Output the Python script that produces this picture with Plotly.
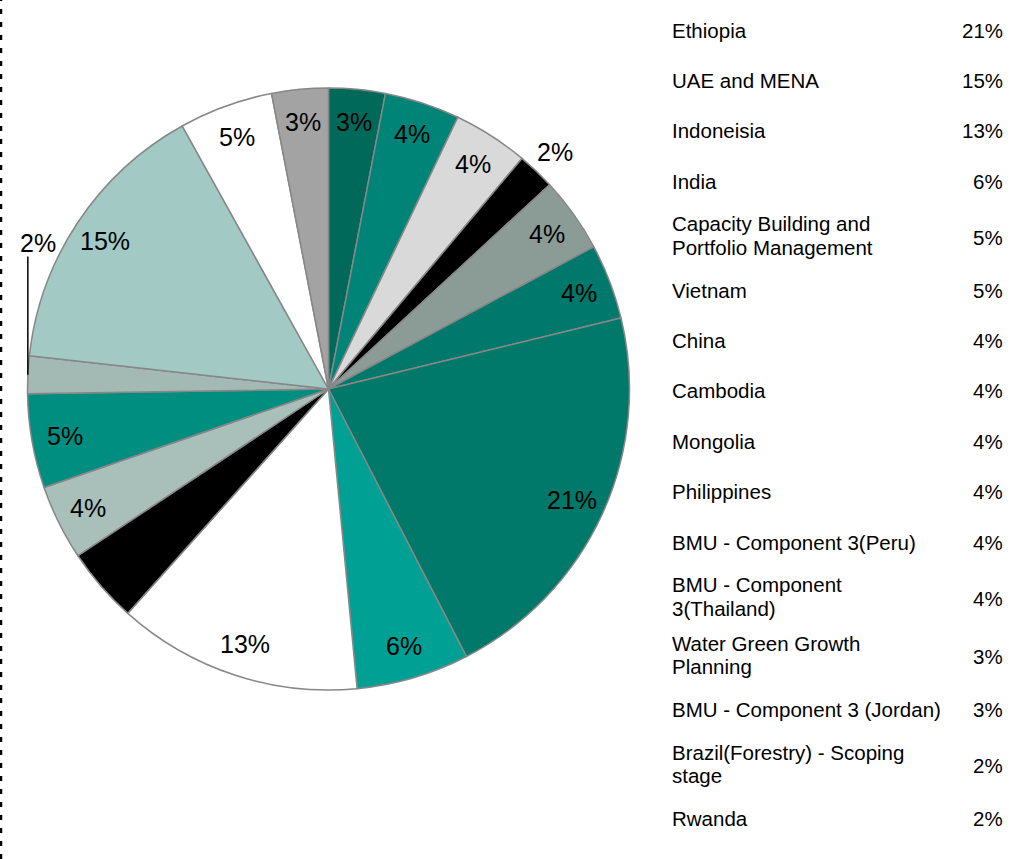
import math
import textwrap
import plotly.graph_objects as go

# Pie slices, listed clockwise from 12 o'clock
slice_names = [
    "Water Green Growth Planning",
    "China",
    "Cambodia",
    "Rwanda",
    "Mongolia",
    "Philippines",
    "Ethiopia",
    "India",
    "Indoneisia",
    "BMU - Component 3(Peru)",
    "BMU - Component 3(Thailand)",
    "Vietnam",
    "Brazil(Forestry) - Scoping stage",
    "UAE and MENA",
    "Capacity Building and Portfolio Management",
    "BMU - Component 3 (Jordan)",
]
slice_values = [3, 4, 4, 2, 4, 4, 21, 6, 13, 4, 4, 5, 2, 15, 5, 3]
slice_colors = [
    "#00695a", "#008477", "#d9d9d9", "#000000", "#8b9c96", "#00786c",
    "#00796a", "#00a194", "#ffffff", "#000000", "#a9c0ba", "#008e81",
    "#a3b9b3", "#a2c9c4", "#ffffff", "#a3a3a3",
]

# Summary table on the right
table_names = [
    "Ethiopia",
    "UAE and MENA",
    "Indoneisia",
    "India",
    "Capacity Building and Portfolio Management",
    "Vietnam",
    "China",
    "Cambodia",
    "Mongolia",
    "Philippines",
    "BMU - Component 3(Peru)",
    "BMU - Component 3(Thailand)",
    "Water Green Growth Planning",
    "BMU - Component 3 (Jordan)",
    "Brazil(Forestry) - Scoping stage",
    "Rwanda",
]
table_values = [21, 15, 13, 6, 5, 5, 4, 4, 4, 4, 4, 4, 3, 3, 2, 2]

# ---- page geometry (pixels) ----
W, H = 1021, 859
CX, CY, R = 328.5, 389.0, 301.0
FONT = "Arial, Liberation Sans, sans-serif"


def px(x):
    return x / W


def py(y):
    return 1 - y / H


def text_at(x, y, text, font, xanchor="center"):
    return dict(x=px(x), y=py(y), xref="paper", yref="paper", text=text,
                showarrow=False, xanchor=xanchor, yanchor="middle",
                borderpad=0, borderwidth=0, font=font)


fig = go.Figure(
    go.Pie(
        labels=slice_names,
        values=slice_values,
        sort=False,
        direction="clockwise",
        rotation=0,
        marker=dict(colors=slice_colors, line=dict(color="#878787", width=1.5)),
        textinfo="none",
        hoverinfo="label+value",
        showlegend=False,
        domain=dict(x=[px(CX - R), px(CX + R)], y=[py(CY + R), py(CY - R)]),
    )
)

annotations = []
shapes = []

# Percentage labels placed near the rim of each slice
label_font = dict(family=FONT, size=25, color="#000000")
total = sum(slice_values)
cum = 0
for name, v in zip(slice_names, slice_values):
    theta = 2 * math.pi * (cum + v / 2) / total
    cum += v
    s, c = math.sin(theta), math.cos(theta)
    if v > 2:
        r = 0.89 * R
        annotations.append(text_at(CX + r * s, CY - r * c, f"{v}%", label_font))
    elif s > -0.9:
        r = 1.09 * R
        annotations.append(text_at(CX + r * s, CY - r * c, f"{v}%", label_font))
    else:
        # callout with a vertical leader line from the rim
        ex, ey = CX + R * s, CY - R * c
        top = CY - 0.44 * R
        shapes.append(dict(type="line", xref="paper", yref="paper",
                           x0=px(ex), y0=py(ey), x1=px(ex), y1=py(top),
                           line=dict(color="#000000", width=1.5)))
        annotations.append(text_at(ex + 10, CY - 0.485 * R, f"{v}%", label_font))

# Right-hand table of names and shares
TX_LEFT, TX_RIGHT = 672, 1003
ROW1, ROW2 = 50.4, 58.5
LINE = 23.4
table_font = dict(family=FONT, size=20.5, color="#000000")
y_center = 30.0
prev_h = None
for name, v in zip(table_names, table_values):
    lines = textwrap.wrap(name, 26)
    h = ROW1 if len(lines) == 1 else ROW2
    if prev_h is not None:
        y_center += (prev_h + h) / 2
    prev_h = h
    n = len(lines)
    for i, ln in enumerate(lines):
        ly = y_center + (i - (n - 1) / 2) * LINE
        annotations.append(text_at(TX_LEFT, ly, ln, table_font, "left"))
    annotations.append(text_at(TX_RIGHT, y_center + (1.5 if n > 1 else 0),
                               f"{v}%", table_font, "right"))

# Dashed frame edge on the left
shapes.append(dict(type="line", xref="paper", yref="paper",
                   x0=px(1), y0=0, x1=px(1), y1=1,
                   line=dict(color="#000000", width=2.5, dash="5px,8px")))

fig.update_layout(
    width=W,
    height=H,
    margin=dict(l=0, r=0, t=0, b=0),
    paper_bgcolor="#ffffff",
    plot_bgcolor="#ffffff",
    annotations=annotations,
    shapes=shapes,
    font=dict(family=FONT),
)

fig.write_html("out.html")
